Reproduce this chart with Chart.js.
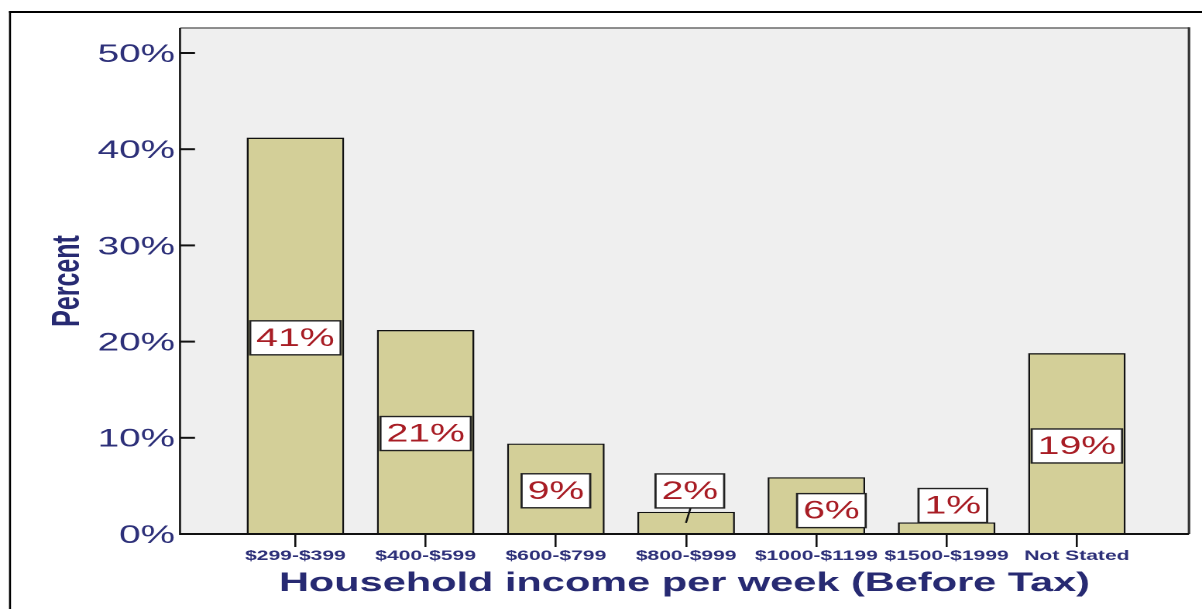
<!DOCTYPE html>
<html><head><meta charset="utf-8">
<script src="https://cdn.jsdelivr.net/npm/chart.js@4/dist/chart.umd.min.js"></script>
<style>html,body{margin:0;padding:0;background:#fff;overflow:hidden}</style>
</head><body>
<canvas id="c" width="776" height="609" style="display:block;width:1202px;height:609px"></canvas>
<script>
// ---- data ----
const categories = ['$299-$399', '$400-$599', '$600-$799', '$800-$999', '$1000-$1199', '$1500-$1999', 'Not Stated'];
const percentValues = [41.2, 21.2, 9.4, 2.3, 5.9, 1.2, 18.8];
const valueLabels = ['41%', '21%', '9%', '2%', '6%', '1%', '19%'];
const yTickValues = [0, 10, 20, 30, 40, 50];

// ---- style / layout ----
const S = 1202 / 776;          // the reference is stretched horizontally
const X = v => v / S;          // screen px -> internal px (horizontal)
const F = "'Liberation Sans', Arial, Helvetica, sans-serif";
const NAVY = '#2d3079';
const NAVY2 = '#272a72';
const RED = '#a81d25';
// label box placement (screen px offsets from bar middle)
const labelPlacement = [
  {dx: 0, dy: 2}, {dx: 0, dy: 1.5}, {dx: 0, dy: 2},
  {dx: 3.7, dy: -32, leader: true}, {dx: 15, dy: 5}, {dx: 6.2, dy: -22.7}, {dx: 0, dy: 2.4}
];

function seg(ctx, x1, y1, x2, y2) { ctx.beginPath(); ctx.moveTo(x1, y1); ctx.lineTo(x2, y2); ctx.stroke(); }

const framePlugin = {
  id: 'frame',
  beforeDraw(chart) {
    const {ctx, chartArea: a} = chart;
    ctx.save();
    ctx.fillStyle = '#fff';
    ctx.fillRect(0, 0, chart.width, chart.height);
    ctx.fillStyle = '#efefef';
    ctx.fillRect(a.left, a.top, a.right - a.left, a.bottom - a.top);
    ctx.strokeStyle = '#000';
    ctx.lineWidth = 2;
    seg(ctx, X(9), 12, chart.width, 12);
    ctx.lineWidth = X(2);
    seg(ctx, X(10), 11, X(10), chart.height);
    ctx.strokeStyle = '#6a6a6a';
    ctx.lineWidth = 1.5;
    seg(ctx, a.left, a.top, a.right, a.top);
    ctx.strokeStyle = '#333';
    ctx.lineWidth = X(2.5);
    seg(ctx, a.right, a.top - 0.7, a.right, a.bottom);
    ctx.restore();
  },
  afterDatasetsDraw(chart) {
    const {ctx, chartArea: a} = chart;
    const yS = chart.scales.y;
    ctx.save();
    // axes
    ctx.strokeStyle = '#111';
    ctx.lineWidth = X(2);
    seg(ctx, a.left, a.top, a.left, a.bottom + 1);
    ctx.lineWidth = 2;
    seg(ctx, a.left, a.bottom, a.right, a.bottom);
    // inner y ticks
    yTickValues.forEach(v => {
      const py = yS.getPixelForValue(v);
      seg(ctx, a.left, py, a.left + X(15), py);
    });
    // value label boxes
    const meta = chart.getDatasetMeta(0);
    ctx.font = `25.3px ${F}`;
    meta.data.forEach((bar, i) => {
      const p = labelPlacement[i];
      const cx = bar.x + X(p.dx);
      const cy = (bar.y + bar.base) / 2 + p.dy;
      const tw = ctx.measureText(valueLabels[i]).width;
      const w = tw + X(12), h = 34;
      const x0 = cx - w / 2, y0 = cy - h / 2;
      if (p.leader) {
        ctx.strokeStyle = '#111';
        ctx.lineWidth = X(2);
        seg(ctx, cx + X(0.7), y0 + h, bar.x - X(0.2), bar.y + 11);
      }
      ctx.fillStyle = '#fff';
      ctx.fillRect(x0, y0, w, h);
      ctx.strokeStyle = '#222';
      ctx.lineWidth = 1.4;
      ctx.strokeRect(x0, y0, w, h);
      ctx.fillStyle = RED;
      ctx.textAlign = 'center';
      ctx.textBaseline = 'middle';
      ctx.fillText(valueLabels[i], cx, cy + 1);
    });
    ctx.restore();
  }
};

new Chart(document.getElementById('c'), {
  type: 'bar',
  data: {
    datasets: [{
      data: percentValues.map((v, i) => ({x: i, y: v})),
      backgroundColor: '#d3cf98',
      borderColor: '#111',
      borderWidth: X(2),
      barPercentage: 0.749,
      categoryPercentage: 1
    }]
  },
  options: {
    responsive: false,
    devicePixelRatio: 2,
    animation: false,
    layout: {padding: {left: 0, right: 776 - X(1189), top: 28, bottom: 0}},
    plugins: {legend: {display: false}, tooltip: {enabled: false}},
    scales: {
      x: {
        type: 'linear', min: -0.886, max: 6.861, offset: false,
        afterBuildTicks: s => { s.ticks = categories.map((_, i) => ({value: i})); },
        afterFit: s => { s.height = 609 - 534; },
        grid: {offset: false, drawOnChartArea: false, drawTicks: true, tickLength: 13, color: '#111', lineWidth: X(2)},
        border: {display: false},
        ticks: {
          callback: v => categories[v],
          font: {family: F, size: 13.6, weight: 'bold'},
          color: NAVY, padding: 1, maxRotation: 0, autoSkip: false
        },
        title: {
          display: true, text: 'Household income per week (Before Tax)',
          font: {family: F, size: 26.8, weight: 'bold'}, color: NAVY2,
          padding: {top: 0, bottom: 9.2}
        }
      },
      y: {
        min: 0, max: 52.6,
        afterBuildTicks: s => { s.ticks = yTickValues.map(v => ({value: v})); },
        afterFit: s => { s.width = X(180); },
        grid: {display: false, drawTicks: false},
        border: {display: false},
        ticks: {callback: v => v + '%', font: {family: F, size: 25}, color: NAVY, padding: X(5), labelOffset: 2},
        title: {
          display: true, text: 'Percent',
          font: {family: F, size: 25, weight: 'bold'}, color: NAVY2,
          padding: {top: 29, bottom: 0}
        }
      }
    }
  },
  plugins: [framePlugin]
});
</script>
</body></html>
